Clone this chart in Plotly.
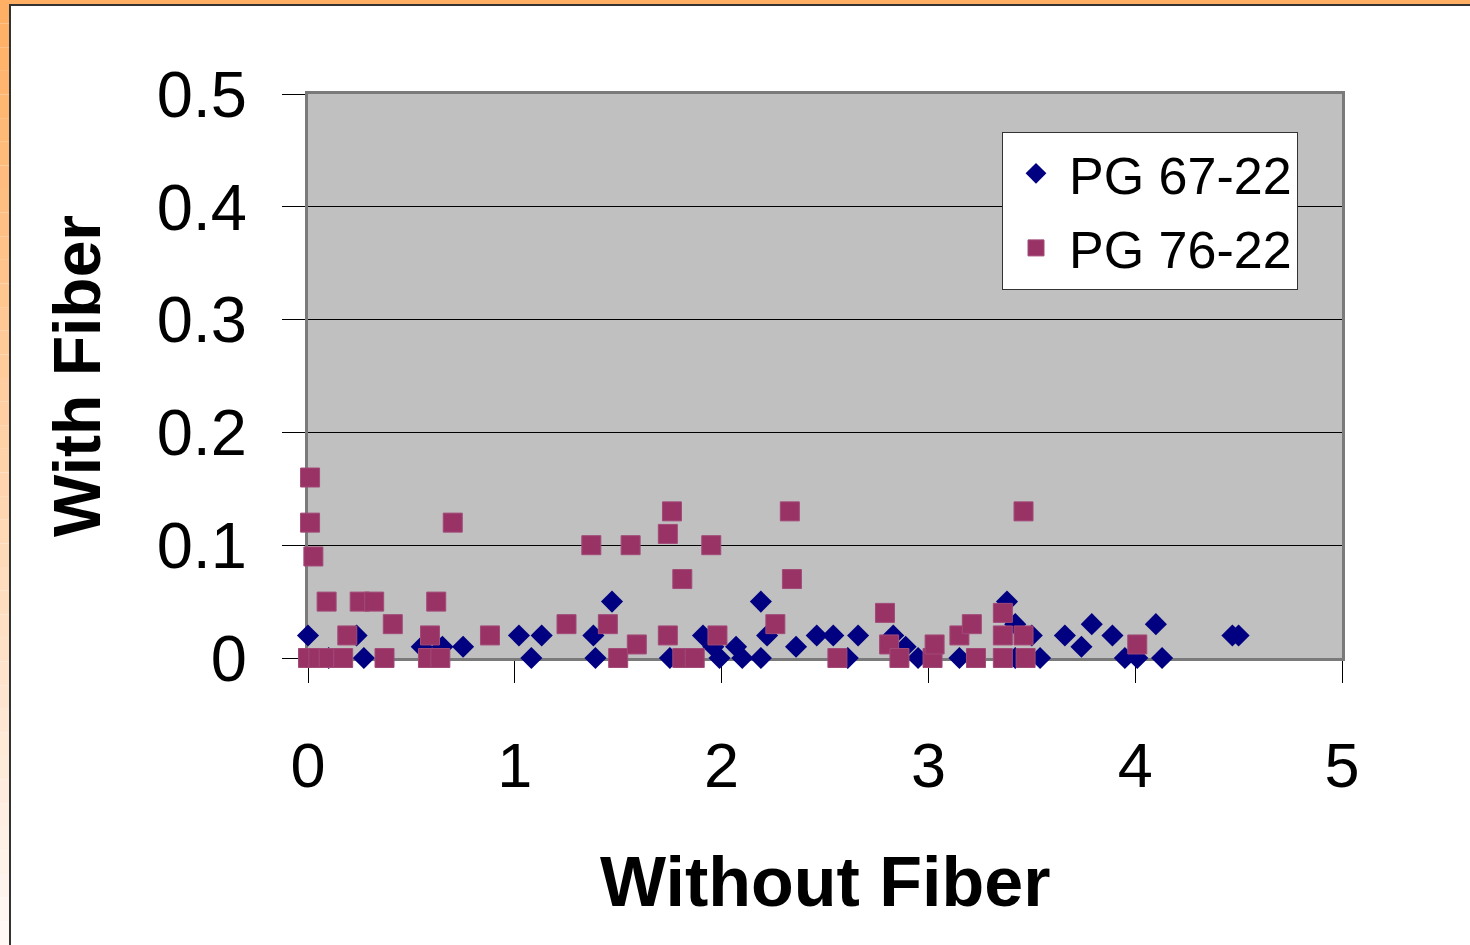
import plotly.graph_objects as go

# PG 67-22 samples (diamonds)
pg67_x = [0.00, 0.10, 0.235, 0.27, 0.55, 0.65, 0.75, 1.02, 1.08, 1.13,
          1.38, 1.39, 1.47, 1.75, 1.91, 1.96, 1.99, 2.07, 2.10, 2.19,
          2.19, 2.22, 2.36, 2.46, 2.54, 2.61, 2.66, 2.83, 2.89, 2.95,
          3.15, 3.38, 3.42, 3.42, 3.50, 3.54, 3.66, 3.74, 3.79, 3.89,
          3.95, 4.01, 4.10, 4.13, 4.47, 4.50]
pg67_y = [0.02, 0.00, 0.02, 0.00, 0.01, 0.01, 0.01, 0.02, 0.00, 0.02,
          0.02, 0.00, 0.05, 0.00, 0.02, 0.01, 0.00, 0.01, 0.00, 0.00,
          0.05, 0.02, 0.01, 0.02, 0.02, 0.00, 0.02, 0.02, 0.01, 0.00,
          0.00, 0.05, 0.03, 0.00, 0.02, 0.00, 0.02, 0.01, 0.03, 0.02,
          0.00, 0.00, 0.03, 0.00, 0.02, 0.02]

# PG 76-22 samples (squares)
pg76_x = [0.00, 0.05, 0.10, 0.17, 0.01, 0.01, 0.026, 0.09, 0.25, 0.32,
          0.19, 0.41, 0.37, 0.59, 0.62, 0.58, 0.64, 0.70, 0.88, 1.25,
          1.37, 1.45, 1.50, 1.56, 1.59, 1.74, 1.74, 1.76, 1.81, 1.81,
          1.87, 1.95, 1.98, 2.26, 2.33, 2.34, 2.56, 2.79, 2.81, 2.86,
          3.02, 3.03, 3.15, 3.21, 3.23, 3.36, 3.36, 3.36, 3.46, 3.46,
          3.47, 4.01]
pg76_y = [0.00, 0.00, 0.00, 0.00, 0.16, 0.12, 0.09, 0.05, 0.05, 0.05,
          0.02, 0.03, 0.00, 0.02, 0.05, 0.00, 0.00, 0.12, 0.02, 0.03,
          0.10, 0.03, 0.00, 0.10, 0.012, 0.02, 0.11, 0.13, 0.07, 0.00,
          0.00, 0.10, 0.02, 0.03, 0.13, 0.07, 0.00, 0.04, 0.012, 0.00,
          0.00, 0.012, 0.02, 0.03, 0.00, 0.04, 0.02, 0.00, 0.13, 0.02,
          0.00, 0.012]

x_ticks = [0, 1, 2, 3, 4, 5]
y_ticks = [0, 0.1, 0.2, 0.3, 0.4, 0.5]
y_tick_text = ["0", "0.1", "0.2", "0.3", "0.4", "0.5"]

W, H = 1470, 945
ML, MR, MT, MB = 308, 128, 94, 287
PW, PH = W - ML - MR, H - MT - MB
FONT = "Liberation Sans, Arial, sans-serif"


def px_x(p):
    return (p - ML) / PW


def px_y(p):
    return (H - MB - p) / PH


fig = go.Figure()
fig.add_trace(go.Scatter(
    x=pg67_x, y=pg67_y, mode="markers", name="PG 67-22",
    legendgroup="a",
    marker=dict(symbol="diamond", size=17, color="#000080",
                line=dict(width=0)),
    cliponaxis=False,
))
fig.add_trace(go.Scatter(
    x=pg76_x, y=pg76_y, mode="markers", name="PG 76-22",
    legendgroup="b",
    marker=dict(symbol="square", size=19, color="#993366",
                line=dict(width=1, color="#A24A78")),
    cliponaxis=False,
))

# frame: orange top band, gradient left band, dark edge lines
shapes = [dict(type="rect", xref="paper", yref="paper",
               x0=px_x(0), x1=px_x(W), y0=px_y(0), y1=px_y(4.5),
               fillcolor="#FFAF64", line=dict(width=0), layer="below")]
n = 40
for i in range(n):
    t = i / (n - 1)
    g = int(176 + 72 * t)
    b = int(100 + 145 * t)
    y0 = i * H / n
    y1 = (i + 1) * H / n
    shapes.append(dict(type="rect", xref="paper", yref="paper",
                       x0=px_x(0), x1=px_x(9), y0=px_y(y0), y1=px_y(y1),
                       fillcolor=f"rgb(255,{g},{b})", line=dict(width=0),
                       layer="below"))
shapes.append(dict(type="line", xref="paper", yref="paper",
                   x0=px_x(10), x1=px_x(10), y0=px_y(4.5), y1=px_y(H),
                   line=dict(color="#333333", width=2)))
shapes.append(dict(type="line", xref="paper", yref="paper",
                   x0=px_x(9), x1=px_x(W), y0=px_y(5), y1=px_y(5),
                   line=dict(color="#333333", width=2)))

fig.update_layout(
    width=W, height=H, autosize=False,
    margin=dict(l=ML, r=MR, t=MT, b=MB, pad=0),
    paper_bgcolor="white",
    plot_bgcolor="#C0C0C0",
    font=dict(family=FONT, color="black"),
    shapes=shapes,
    showlegend=True,
    legend=dict(
        x=px_x(1002), y=px_y(132), xanchor="left", yanchor="top",
        bgcolor="white", bordercolor="#333333", borderwidth=1,
        font=dict(family=FONT, size=52, color="black"),
        itemwidth=56, tracegroupgap=4,
    ),
    xaxis=dict(
        range=[0, 5], tickvals=x_ticks, ticktext=[str(v) for v in x_ticks],
        showgrid=False, zeroline=False,
        showline=True, linecolor="#7A7A7A", linewidth=3, mirror=True,
        ticks="outside", ticklen=22, tickwidth=1, tickcolor="black",
        tickfont=dict(family=FONT, size=63, color="black"),
        ticklabelstandoff=28,
        layer="below traces",
    ),
    yaxis=dict(
        range=[0, 0.5], tickvals=y_ticks, ticktext=y_tick_text,
        showgrid=True, gridcolor="black", gridwidth=1, zeroline=False,
        showline=True, linecolor="#7A7A7A", linewidth=3, mirror=True,
        ticks="outside", ticklen=23, tickwidth=1, tickcolor="black",
        tickfont=dict(family=FONT, size=65, color="black"),
        ticklabelstandoff=22,
        layer="below traces",
    ),
    annotations=[
        dict(text="<b>With Fiber</b>", xref="paper", yref="paper",
             x=px_x(77), y=0.5, textangle=-90, showarrow=False,
             xanchor="center", yanchor="middle",
             font=dict(family=FONT, size=66, color="black")),
        dict(text="<b>Without Fiber</b>", xref="paper", yref="paper",
             x=0.5, y=px_y(882), showarrow=False,
             xanchor="center", yanchor="middle",
             font=dict(family=FONT, size=70, color="black")),
    ],
)

fig.write_html("out.html")
